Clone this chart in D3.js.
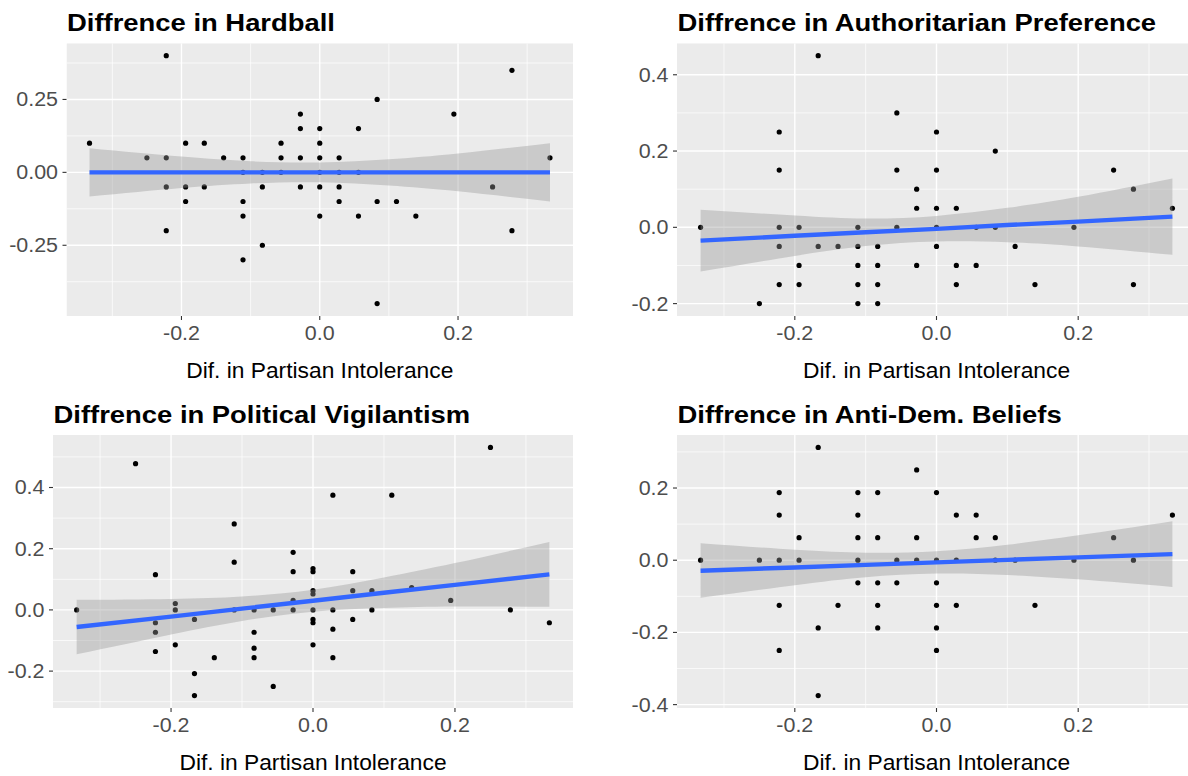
<!DOCTYPE html>
<html>
<head>
<meta charset="utf-8">
<script src="https://cdn.jsdelivr.net/npm/d3@7"></script>
<style>
  body { margin: 0; background: #fff; }
  svg text { font-family: 'Liberation Sans', Arial, Helvetica, sans-serif; }
</style>
</head>
<body>
<svg id="chart" width="1188" height="776"></svg>
<script>
// --- data ---------------------------------------------------------------
var titles = ["Diffrence in Hardball", "Diffrence in Authoritarian Preference",
              "Diffrence in Political Vigilantism", "Diffrence in Anti-Dem. Beliefs"];
var xLabel = "Dif. in Partisan Intolerance";
var xTicks = [-0.2, 0, 0.2];
var yTicks1 = [-0.25, 0, 0.25];
var yTicks2 = [-0.2, 0, 0.2, 0.4];
var yTicks4 = [-0.4, -0.2, 0, 0.2];

// Hardball
var hardballX = [-0.333,-0.25,-0.222,-0.222,-0.222,-0.222,-0.194,-0.194,-0.194,-0.167,-0.167,-0.139,
  -0.111,-0.111,-0.111,-0.111,-0.111,-0.083,-0.083,-0.083,-0.056,-0.056,-0.056,-0.028,-0.028,-0.028,-0.028,
  0,0,0,0,0,0,0.028,0.028,0.028,0.028,0.056,0.056,0.056,0.083,0.083,0.083,0.111,0.139,0.194,0.25,0.278,0.278,0.333];
var hardballY = [0.10,0.05,0.40,0.05,-0.05,-0.20,0.10,-0.05,-0.10,0.10,-0.05,0.05,
  0.05,0,-0.10,-0.15,-0.30,0,-0.05,-0.25,0.10,0.05,0,0.20,0.15,0.05,-0.05,
  0.15,0.10,0.05,0,-0.05,-0.15,0.05,0,-0.05,-0.10,0.15,0,-0.15,0.25,-0.10,-0.45,-0.10,-0.15,0.20,-0.05,0.35,-0.20,0.05];

// Authoritarian preference
var authX = [-0.333,-0.25,-0.222,-0.222,-0.222,-0.222,-0.222,-0.194,-0.194,-0.194,-0.167,-0.167,-0.139,
  -0.111,-0.111,-0.111,-0.111,-0.111,-0.083,-0.083,-0.083,-0.083,-0.056,-0.056,-0.056,-0.028,-0.028,-0.028,
  0,0,0,0,0,0.028,0.028,0.028,0.056,0.056,0.083,0.083,0.111,0.139,0.194,0.25,0.278,0.278,0.333];
var authY = [0,-0.20,0.25,0.15,0,-0.05,-0.15,0,-0.10,-0.15,0.45,-0.05,-0.05,
  0,-0.05,-0.10,-0.15,-0.20,-0.05,-0.10,-0.15,-0.20,0.30,0.15,0,0.10,0.05,-0.10,
  0.25,0.15,0.05,0,-0.05,0.05,-0.10,-0.15,0,-0.10,0.20,0,-0.05,-0.15,0,0.15,0.10,-0.15,0.05];

// Political vigilantism
var vigilX = [-0.333,-0.25,-0.222,-0.222,-0.222,-0.222,-0.194,-0.194,-0.194,-0.167,-0.167,-0.167,-0.139,
  -0.111,-0.111,-0.111,-0.083,-0.083,-0.083,-0.083,-0.056,-0.056,-0.028,-0.028,-0.028,-0.028,
  0,0,0,0,0,0,0,0,0.028,0.028,0.028,0.028,0.056,0.056,0.056,0.083,0.083,0.111,0.139,0.194,0.25,0.278,0.333];
var vigilY = [0,0.478,0.115,-0.042,-0.073,-0.136,0.021,0,-0.114,-0.031,-0.208,-0.28,-0.156,
  0.281,0.156,0,0,-0.073,-0.125,-0.156,0,-0.25,0.188,0.125,0.031,0,
  0.135,0.125,0.063,0.052,0,-0.031,-0.042,-0.114,0.375,0,-0.063,-0.156,0.125,0.063,-0.031,0.063,0,0.375,0.073,0.031,0.531,0,-0.042];

// Anti-democratic beliefs
var antiX = [-0.333,-0.25,-0.222,-0.222,-0.222,-0.222,-0.222,-0.194,-0.194,-0.167,-0.167,-0.167,-0.139,
  -0.111,-0.111,-0.111,-0.111,-0.111,-0.083,-0.083,-0.083,-0.083,-0.083,-0.056,-0.056,-0.028,-0.028,-0.028,
  0,0,0,0,0,0,0.028,0.028,0.028,0.056,0.056,0.083,0.083,0.111,0.139,0.194,0.25,0.278,0.333];
var antiY = [0,0,0.1875,0.125,0,-0.125,-0.25,0.0625,0,0.3125,-0.1875,-0.375,-0.125,
  0.1875,0.125,0.0625,0,-0.0625,0.1875,0.0625,-0.0625,-0.125,-0.1875,0,-0.0625,0.25,0.0625,0,
  0.1875,0,-0.0625,-0.125,-0.1875,-0.25,0.125,0,-0.125,0.125,0.0625,0.0625,0,0,-0.125,0,0.0625,0,0.125];

// linear fit and 95% band, read at these x positions
var bandX = [-0.333, -0.2, -0.1, 0, 0.1, 0.2, 0.333];
var hardballFit = [0, 0, 0, 0, 0, 0, 0];
var hardballLo  = [-0.083, -0.054, -0.038, -0.034, -0.045, -0.065, -0.100];
var hardballHi  = [ 0.083,  0.054,  0.038,  0.034,  0.045,  0.065,  0.100];
var authFit = [-0.035, -0.022, -0.013, -0.004, 0.006, 0.015, 0.028];
var authLo  = [-0.116, -0.075, -0.049, -0.037, -0.039, -0.050, -0.072];
var authHi  = [ 0.046,  0.031,  0.023,  0.030,  0.051,  0.080,  0.128];
var vigilFit = [-0.056, -0.022, 0.004, 0.030, 0.056, 0.082, 0.116];
var vigilLo  = [-0.145, -0.080, -0.036, -0.006, 0.006, 0.011, 0.010];
var vigilHi  = [ 0.033,  0.036,  0.044,  0.066, 0.106, 0.153, 0.222];
var antiFit = [-0.029, -0.020, -0.013, -0.006, 0.001, 0.008, 0.017];
var antiLo  = [-0.104, -0.069, -0.047, -0.037, -0.041, -0.053, -0.074];
var antiHi  = [ 0.047,  0.029,  0.021,  0.025,  0.043,  0.069,  0.108];

// --- layout ---------------------------------------------------------------
var layout = [
  { left: 66.5, right: 573,  top: 43.3, bottom: 316 },
  { left: 677,  right: 1196, top: 43.3, bottom: 316 },
  { left: 53,   right: 573,  top: 435,  bottom: 708 },
  { left: 677,  right: 1196, top: 435,  bottom: 708 },
];

var panels = [
  { x: hardballX, y: hardballY, fit: hardballFit, lo: hardballLo, hi: hardballHi, ticks: yTicks1, fmt: ".2f" },
  { x: authX,     y: authY,     fit: authFit,     lo: authLo,     hi: authHi,     ticks: yTicks2, fmt: ".1f" },
  { x: vigilX,    y: vigilY,    fit: vigilFit,    lo: vigilLo,    hi: vigilHi,    ticks: yTicks2, fmt: ".1f" },
  { x: antiX,     y: antiY,     fit: antiFit,     lo: antiLo,     hi: antiHi,     ticks: yTicks4, fmt: ".1f" },
];

var locale = d3.formatLocale({ decimal: ".", thousands: ",", grouping: [3], currency: ["", ""], minus: "-" });
var svg = d3.select("#chart");
var defs = svg.append("defs");

// ggplot style 5% expansion of the data range
function expand(ext) {
  var d = (ext[1] - ext[0]) * 0.05;
  return [ext[0] - d, ext[1] + d];
}

function minors(majors, dom) {
  var step = majors[1] - majors[0];
  var out = [];
  for (var v = majors[0] - step / 2; v <= dom[1]; v += step)
    if (v >= dom[0]) out.push(v);
  return out;
}

panels.forEach(function(p, i) {
  var L = layout[i];
  var xDom = expand(d3.extent(p.x));
  var yDom = expand(d3.extent(p.y));
  var x = d3.scaleLinear().domain(xDom).range([L.left, L.right]);
  var y = d3.scaleLinear().domain(yDom).range([L.bottom, L.top]);
  var yTicks = p.ticks.filter(function(v) { return v >= yDom[0] && v <= yDom[1]; });
  var g = svg.append("g");

  defs.append("clipPath").attr("id", "clip" + i)
    .append("rect").attr("x", L.left).attr("y", L.top)
    .attr("width", L.right - L.left).attr("height", L.bottom - L.top);

  var body = g.append("g").attr("clip-path", "url(#clip" + i + ")");
  body.append("rect")
    .attr("x", L.left).attr("y", L.top)
    .attr("width", L.right - L.left).attr("height", L.bottom - L.top)
    .attr("fill", "#EBEBEB");

  // minor grid
  minors(xTicks, xDom).forEach(function(v) {
    body.append("line").attr("x1", x(v)).attr("x2", x(v)).attr("y1", L.top).attr("y2", L.bottom)
      .attr("stroke", "#fff").attr("stroke-width", 0.7);
  });
  minors(yTicks, yDom).forEach(function(v) {
    body.append("line").attr("y1", y(v)).attr("y2", y(v)).attr("x1", L.left).attr("x2", L.right)
      .attr("stroke", "#fff").attr("stroke-width", 0.7);
  });
  // major grid
  xTicks.forEach(function(v) {
    body.append("line").attr("x1", x(v)).attr("x2", x(v)).attr("y1", L.top).attr("y2", L.bottom)
      .attr("stroke", "#fff").attr("stroke-width", 1.4);
  });
  yTicks.forEach(function(v) {
    body.append("line").attr("y1", y(v)).attr("y2", y(v)).attr("x1", L.left).attr("x2", L.right)
      .attr("stroke", "#fff").attr("stroke-width", 1.4);
  });

  // points
  body.selectAll("circle").data(p.x).enter().append("circle")
    .attr("cx", function(d) { return x(d); })
    .attr("cy", function(d, j) { return y(p.y[j]); })
    .attr("r", 2.6)
    .attr("fill", "#000");

  // confidence band + fit line
  var band = bandX.map(function(v, j) { return { x: v, lo: p.lo[j], hi: p.hi[j], fit: p.fit[j] }; });
  body.append("path").datum(band)
    .attr("d", d3.area().curve(d3.curveNatural)
      .x(function(d) { return x(d.x); })
      .y0(function(d) { return y(d.lo); })
      .y1(function(d) { return y(d.hi); }))
    .attr("fill", "#999999").attr("fill-opacity", 0.4);
  body.append("path").datum(band)
    .attr("d", d3.line()
      .x(function(d) { return x(d.x); })
      .y(function(d) { return y(d.fit); }))
    .attr("fill", "none").attr("stroke", "#3366FF").attr("stroke-width", 4.4);

  // axes ticks
  var fmtY = locale.format(p.fmt), fmtX = locale.format(".1f");
  xTicks.forEach(function(v) {
    g.append("line").attr("x1", x(v)).attr("x2", x(v)).attr("y1", L.bottom).attr("y2", L.bottom + 4)
      .attr("stroke", "#333").attr("stroke-width", 1.1);
    g.append("text")
      .attr("transform", "translate(" + x(v) + "," + (L.bottom + 24) + ") scale(1.1,1)")
      .attr("text-anchor", "middle").attr("font-size", 19.5).attr("fill", "#4D4D4D")
      .text(fmtX(v));
  });
  yTicks.forEach(function(v) {
    g.append("line").attr("x1", L.left - 4).attr("x2", L.left).attr("y1", y(v)).attr("y2", y(v))
      .attr("stroke", "#333").attr("stroke-width", 1.1);
    g.append("text")
      .attr("transform", "translate(" + (L.left - 8.5) + "," + (y(v) + 7) + ") scale(1.1,1)")
      .attr("text-anchor", "end").attr("font-size", 19.5).attr("fill", "#4D4D4D")
      .text(fmtY(v));
  });

  // axis title
  g.append("text")
    .attr("transform", "translate(" + ((L.left + L.right) / 2) + "," + (L.bottom + 62) + ") scale(1.06,1)")
    .attr("text-anchor", "middle").attr("font-size", 21.5).attr("fill", "#000")
    .text(xLabel);

  // panel title
  g.append("text")
    .attr("transform", "translate(" + (L.left + 0.5) + "," + (L.top - 12) + ") scale(1.11,1)")
    .attr("font-size", 24.7).attr("font-weight", "bold").attr("fill", "#000")
    .text(titles[i]);
});
</script>
</body>
</html>
